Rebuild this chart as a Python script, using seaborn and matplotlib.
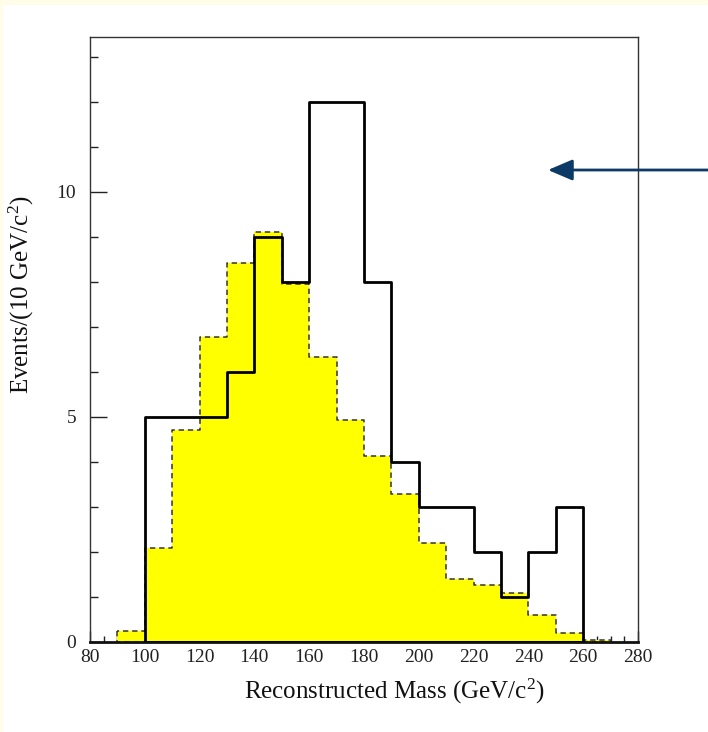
import numpy as np
import pandas as pd
import matplotlib
matplotlib.use("Agg")
import matplotlib.pyplot as plt
from matplotlib.patches import Rectangle
from matplotlib.ticker import MultipleLocator
import seaborn as sns

# ---- data ----
mc_bin_low = [90, 100, 110, 120, 130, 140, 150, 160, 170, 180, 190, 200, 210, 220, 230, 240, 250, 260]
mc_values = [0.25, 2.09, 4.71, 6.77, 8.43, 9.10, 7.96, 6.33, 4.93, 4.14, 3.28, 2.21, 1.41, 1.26, 1.09, 0.59, 0.20, 0.05]
data_bin_low = [100, 110, 120, 130, 140, 150, 160, 170, 180, 190, 200, 210, 220, 230, 240, 250]
data_values = [5, 5, 5, 6, 9, 8, 12, 12, 8, 4, 3, 3, 2, 1, 2, 3]
bin_width = 10
x_ticks = [80, 100, 120, 140, 160, 180, 200, 220, 240, 260, 280]
y_ticks = [0, 5, 10]
x_label = r"Reconstructed Mass (GeV/c$^{2}$)"
y_label = r"Events/(10 GeV/c$^{2}$)"

sns.set_style("white")
plt.rcParams["font.family"] = ["Liberation Serif", "DejaVu Serif"]
plt.rcParams["mathtext.fontset"] = "custom"
plt.rcParams["mathtext.rm"] = "Liberation Serif"
plt.rcParams["mathtext.it"] = "Liberation Serif:italic"
plt.rcParams["mathtext.bf"] = "Liberation Serif:bold"

W, H = 708, 732
fig = plt.figure(figsize=(W / 100, H / 100), dpi=100, facecolor="#FFFDE8")
fig.add_artist(Rectangle((3 / W, 0), 1, (H - 5) / H, transform=fig.transFigure,
                         facecolor="white", edgecolor="none", zorder=0))

ax = fig.add_axes([90 / W, (H - 642) / H, (638 - 90) / W, (642 - 37) / H])
ax.set_facecolor("white")

mc_df = pd.DataFrame({"x": np.array(mc_bin_low) + bin_width / 2, "w": mc_values})
data_df = pd.DataFrame({"x": np.array(data_bin_low) + bin_width / 2, "w": data_values})
mc_edges = list(mc_bin_low) + [mc_bin_low[-1] + bin_width]
data_edges = list(data_bin_low) + [data_bin_low[-1] + bin_width]

# MC: yellow fill with dashed outline
sns.histplot(data=mc_df, x="x", weights="w", bins=mc_edges, element="step", fill=True,
             ax=ax, color="#FFFF00", alpha=1, linewidth=0)
sns.histplot(data=mc_df, x="x", weights="w", bins=mc_edges, element="step", fill=True,
             ax=ax, color="#FFFF00", alpha=1, linewidth=1.1)
poly = ax.collections[-1]
poly.set_facecolor("none")
poly.set_edgecolor("#333333")
poly.set_linestyle((0, (3.5, 2.5)))

# Data: black solid outline
sns.histplot(data=data_df, x="x", weights="w", bins=data_edges, element="step", fill=True,
             ax=ax, color="black", alpha=1, linewidth=2.0)
dpoly = ax.collections[-1]
dpoly.set_facecolor("none")
dpoly.set_edgecolor("black")
dpoly.set_zorder(3)

ax.set_xlim(80, 280)
ax.set_ylim(0, 13.44)
ax.set_xticks(x_ticks)
ax.set_xticklabels([str(v) for v in x_ticks])
ax.set_yticks(y_ticks)
ax.set_yticklabels([str(v) for v in y_ticks])
ax.xaxis.set_minor_locator(MultipleLocator(5))
ax.yaxis.set_minor_locator(MultipleLocator(1))
ax.tick_params(which="both", direction="in", colors="#222222", labelsize=14, width=1,
               top=False, right=False, bottom=True, left=True)
ax.tick_params(which="major", length=8, pad=5)
ax.tick_params(which="minor", length=4.5)
ax.tick_params(axis="y", which="major", length=12, pad=10)
ax.tick_params(axis="y", which="minor", length=6)

for s in ["left", "top", "right"]:
    ax.spines[s].set_color("#333333")
    ax.spines[s].set_linewidth(1.0)
ax.spines["bottom"].set_color("#111111")
ax.spines["bottom"].set_linewidth(2.0)

ax.set_xlabel(x_label, fontsize=18, color="#111111")
ax.set_ylabel(y_label, fontsize=18, color="#111111")
ax.xaxis.set_label_coords(0.555, -0.058)
ax.yaxis.set_label_coords(-0.098, 0.574)

ax.annotate("", xy=(548 / W, 1 - 170 / H), xytext=(1.0, 1 - 170 / H),
            xycoords="figure fraction", textcoords="figure fraction",
            arrowprops=dict(arrowstyle="-|>,head_length=0.75,head_width=0.32",
                            mutation_scale=20, color="#0B3A66", lw=2,
                            shrinkA=0, shrinkB=0))

fig.savefig("out.png", dpi=100, facecolor=fig.get_facecolor())
